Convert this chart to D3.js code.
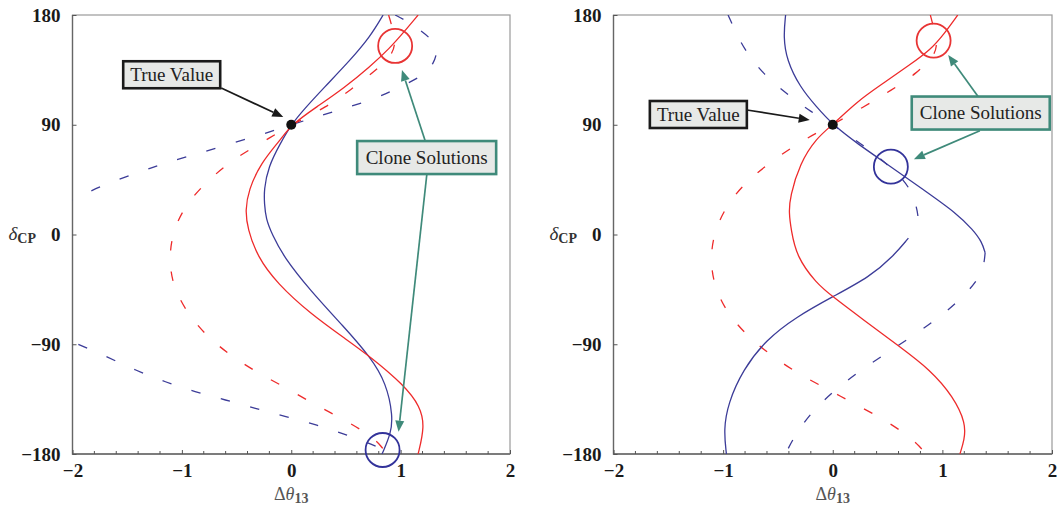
<!DOCTYPE html>
<html><head><meta charset="utf-8">
<script src="https://cdn.jsdelivr.net/npm/d3@7"></script>
<style>body{margin:0;background:#fff}svg{display:block}</style>
</head><body>
<svg id="c" width="1057" height="507"></svg>
<script>
// ---------- data (x = Δθ13, y = δCP in degrees) ----------
const xTicks = [-2, -1, 0, 1, 2];
const yTicks = [-180, -90, 0, 90, 180];
const trueValue = [0, 90];

const leftRedSolid = [[1.16,180],[1.03,166],[0.90,152.7],[0.72,137.6],[0.48,119.9],[0.235,104.8],[0,90],[-0.10,77.5],[-0.28,58.4],[-0.39,36.5],[-0.42,20],[-0.40,5],[-0.31,-18.2],[-0.13,-40],[0.17,-64.6],[0.51,-86.5],[0.72,-100],[1.03,-123.4],[1.18,-141],[1.22,-157.6],[1.16,-180]];
const leftBlueSolid = [[0.84,180],[0.72,162],[0.54,143],[0.295,120],[0.11,102],[0,90],[-0.10,74.8],[-0.21,55.6],[-0.25,36.5],[-0.245,25],[-0.232,13],[-0.175,0],[-0.07,-18.2],[0.17,-45.5],[0.48,-75.6],[0.72,-100],[0.87,-122],[0.93,-149.4],[0.91,-163],[0.84,-178],[0.83,-180]];
const leftRedDashed = [[0.89,180],[0.94,165],[0.95,156],[0.92,147],[0.78,135],[0.54,118.5],[0.33,104.8],[0,90],[-0.18,80],[-0.47,65.2],[-0.69,50.2],[-0.91,31],[-1.06,9.2],[-1.12,-15.4],[-1.09,-41.4],[-0.95,-64.6],[-0.77,-83.8],[-0.54,-100.2],[-0.30,-113.8],[-0.04,-126],[0.22,-139.8],[0.46,-150.7],[0.72,-164.4],[0.83,-174],[0.87,-180]];
const leftBlueDashedUpper = [[0.95,180],[1.06,175],[1.30,160],[1.34,150],[1.30,140],[1.22,131],[1.04,123],[0.79,112],[0.49,103.5],[0.25,97],[0,90],[-0.28,81.6],[-0.60,73.4],[-0.89,65.2],[-1.17,58.4],[-1.42,50],[-1.70,41.4],[-1.99,29],[-2.2,20]];
const leftBlueDashedLower = [[-2.2,-80],[-2.0,-88],[-1.70,-99.6],[-1.42,-111.5],[-1.15,-121],[-0.88,-129],[-0.60,-135.7],[-0.33,-142.5],[-0.05,-149.4],[0.235,-156],[0.51,-164.4],[0.78,-173.5],[0.93,-180]];

const rightRedSolid = [[1.14,180],[1.02,165],[0.89,151.3],[0.70,139],[0.46,124],[0.22,109],[0,90],[-0.15,79],[-0.30,58.4],[-0.39,31],[-0.40,18],[-0.38,4],[-0.33,-18.2],[-0.15,-40],[0,-51],[0.28,-70],[0.61,-92],[0.89,-111],[1.10,-133],[1.215,-155],[1.20,-168.5],[1.16,-180]];
const rightBlueSolidA = [[-0.43,180],[-0.45,162],[-0.42,143],[-0.30,121],[-0.15,104.8],[0,90],[0.22,74.8],[0.53,55.6],[0.83,36.5],[1.13,17.4],[1.28,3.7],[1.36,-6],[1.39,-15]];
const rightBlueDashedD = [[1.39,-15],[1.37,-33],[1.16,-54],[0.94,-70],[0.69,-85.7],[0.45,-99.6],[0.22,-113.6],[0,-129],[-0.21,-147],[-0.37,-168.5],[-0.43,-180]];
const rightBlueDashedC = [[-0.955,180],[-0.88,165],[-0.80,151],[-0.64,132],[-0.43,116],[-0.19,100],[0,90],[0.29,72.6],[0.52,56],[0.72,38.5],[0.79,13.5],[0.77,6]];
const rightBlueSolidB = [[0.69,-3],[0.55,-18],[0.34,-34.6],[0,-51],[-0.33,-67.4],[-0.61,-86.5],[-0.82,-111],[-0.955,-138.4],[-0.995,-160],[-0.97,-180]];
const rightRedDashed = [[0.89,180],[0.94,163],[0.95,154],[0.92,146],[0.77,132.5],[0.53,118],[0.28,104.6],[0,90],[-0.23,79.5],[-0.48,65.2],[-0.73,48],[-0.91,31.6],[-1.055,9.4],[-1.12,-15],[-1.09,-41.4],[-0.96,-65],[-0.77,-84],[-0.55,-100],[-0.31,-114.5],[-0.05,-126.7],[0.20,-139],[0.46,-151.3],[0.69,-165],[0.795,-174],[0.85,-180]];

// clone-solution circles (centres in data units)
const leftClones = [{c:[0.95,154.6], col:"red"}, {c:[0.835,-176.7], col:"blue"}];
const rightClones = [{c:[0.92,159], col:"red"}, {c:[0.53,55.6], col:"blue"}];

// annotation anchors (data units)
const leftTV = {box:[-1.093,131.0], from:[-0.64,120.1], to:[-0.073,96.4]};
const leftClone = {box:[1.238,63.1], arrows:[[[1.225,76.7],[1.012,134.9]], [[1.24,49.6],[0.981,-161.7]]]};
const rightTV = {box:[-1.226,98.4], from:[-0.783,102.1], to:[-0.21,93.9]};
const rightClone = {box:[1.35,99.6], arrows:[[[1.327,113],[1.053,147.2]], [[1.342,85.1],[0.74,61.7]]]};

// ---------- drawing ----------
const RED = "#ee2b2b", BLUE = "#3c3c98", TEAL = "#3f8a7a";
const svg = d3.select("#c");
const fmt = d => (d < 0 ? "\u2212" + Math.abs(d) : "" + d);

function arrow(g, p0, p1, color) {
  const dx = p1[0]-p0[0], dy = p1[1]-p0[1], L = Math.hypot(dx,dy);
  const ux = dx/L, uy = dy/L, hl = 11, hw = 4.5;
  const bx = p1[0]-ux*hl, by = p1[1]-uy*hl;
  g.append("line").attr("x1",p0[0]).attr("y1",p0[1]).attr("x2",bx).attr("y2",by)
    .attr("stroke",color).attr("stroke-width",1.7);
  g.append("path").attr("d",`M${p1[0]},${p1[1]}L${bx-uy*hw},${by+ux*hw}L${bx+uy*hw},${by-ux*hw}Z`)
    .attr("fill",color);
}
function labelBox(g, cx, cy, w, h, text, border) {
  g.append("rect").attr("x",cx-w/2).attr("y",cy-h/2).attr("width",w).attr("height",h)
    .attr("fill","#e7e9e7").attr("stroke",border).attr("stroke-width",2.6);
  g.append("text").attr("x",cx).attr("y",cy+6).attr("text-anchor","middle")
    .attr("font-family","Liberation Serif, serif").attr("font-size",19).attr("fill","#222").text(text);
}

function drawPanel(id, xr, curves, clones, tv, clone, cloneW) {
  const x = d3.scaleLinear().domain([-2,2]).range(xr);
  const y = d3.scaleLinear().domain([-180,180]).range([454,15]);
  const g = svg.append("g");
  g.append("clipPath").attr("id","clip"+id).append("rect")
    .attr("x",xr[0]).attr("y",15).attr("width",xr[1]-xr[0]).attr("height",439);
  // frame
  g.append("rect").attr("x",xr[0]).attr("y",15).attr("width",xr[1]-xr[0]).attr("height",439)
    .attr("fill","none").attr("stroke","#9a9a9a").attr("stroke-width",1.2);
  g.append("path").attr("d",`M${xr[0]},15V454H${xr[1]}`).attr("fill","none").attr("stroke","#666").attr("stroke-width",1.3);

  // axes
  const ax = g.append("g").attr("transform","translate(0,454)")
    .call(d3.axisBottom(x).tickValues(xTicks).tickSize(-4).tickSizeOuter(0).tickPadding(10).tickFormat(fmt));
  ax.select(".domain").remove();
  ax.selectAll("line").attr("stroke","#555");
  ax.selectAll("text").attr("font-family","Liberation Serif, serif").attr("font-weight","bold")
    .attr("font-size",19).attr("fill","#1a1a1a");
  g.append("g").selectAll("line").data(x.ticks(20).filter(v => !xTicks.includes(v)))
    .join("line").attr("x1",d=>x(d)).attr("x2",d=>x(d)).attr("y1",454).attr("y2",451)
    .attr("stroke","#555");
  const ay = g.append("g").attr("transform",`translate(${xr[0]},0)`)
    .call(d3.axisLeft(y).tickValues(yTicks).tickSize(-4).tickSizeOuter(0).tickPadding(12).tickFormat(fmt));
  ay.select(".domain").remove();
  ay.selectAll("line").attr("stroke","#555");
  ay.selectAll("text").attr("font-family","Liberation Serif, serif").attr("font-weight","bold")
    .attr("font-size",19).attr("fill","#1a1a1a");

  // axis titles
  const xt = g.append("text").attr("x",x(0)).attr("y",500).attr("text-anchor","middle")
    .attr("font-family","Liberation Serif, serif").attr("fill","#555");
  xt.append("tspan").attr("font-size",18).text("\u0394");
  xt.append("tspan").attr("font-size",18).attr("font-style","italic").text("\u03b8");
  xt.append("tspan").attr("font-size",14).attr("font-weight","bold").attr("dy",3).text("13");
  const yt = g.append("text").attr("x",xr[0]-64).attr("y",y(0)+5)
    .attr("font-family","Liberation Serif, serif").attr("fill","#333");
  yt.append("tspan").attr("font-size",19).attr("font-style","italic").text("\u03b4");
  yt.append("tspan").attr("font-size",14).attr("font-weight","bold").attr("dy",3).text("CP");

  // curves (B-spline through the read points smooths reading noise)
  const line = d3.line().x(d=>x(d[0])).y(d=>y(d[1])).curve(d3.curveBasis);
  const cg = g.append("g").attr("clip-path",`url(#clip${id})`);
  curves.forEach(c => {
    cg.append("path").attr("d",line(c.data)).attr("fill","none")
      .attr("stroke", c.col==="red"?RED:BLUE).attr("stroke-width",1.3)
      .attr("stroke-dasharray", c.dash ? "9.5,21" : null);
  });

  // clone circles
  clones.forEach(c => {
    g.append("circle").attr("cx",x(c.c[0])).attr("cy",y(c.c[1])).attr("r",17)
      .attr("fill","none").attr("stroke", c.col==="red"?"#e83434":"#33339a").attr("stroke-width",1.8);
  });
  // true value dot
  g.append("circle").attr("cx",x(trueValue[0])).attr("cy",y(trueValue[1])).attr("r",5).attr("fill","#111");

  // annotations
  const P = p => [x(p[0]), y(p[1])];
  arrow(g, P(tv.from), P(tv.to), "#1a1a1a");
  labelBox(g, x(tv.box[0]), y(tv.box[1]), 97, 27, "True Value", "#1a1a1a");
  clone.arrows.forEach(a => arrow(g, P(a[0]), P(a[1]), TEAL));
  labelBox(g, x(clone.box[0]), y(clone.box[1]), cloneW, 33, "Clone Solutions", TEAL);
}

drawPanel("L", [72.5,510], [
  {data:leftBlueDashedUpper, col:"blue", dash:true},
  {data:leftBlueDashedLower, col:"blue", dash:true},
  {data:leftRedDashed, col:"red", dash:true},
  {data:leftBlueSolid, col:"blue"},
  {data:leftRedSolid, col:"red"}
], leftClones, leftTV, leftClone, 139);

drawPanel("R", [613.5,1052], [
  {data:rightBlueDashedC, col:"blue", dash:true},
  {data:rightBlueDashedD, col:"blue", dash:true},
  {data:rightRedDashed, col:"red", dash:true},
  {data:rightBlueSolidA, col:"blue"},
  {data:rightBlueSolidB, col:"blue"},
  {data:rightRedSolid, col:"red"}
], rightClones, rightTV, rightClone, 138);
</script>
</body></html>
